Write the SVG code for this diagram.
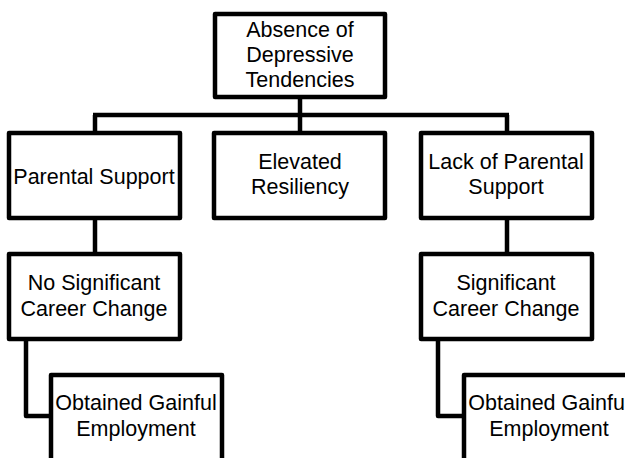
<svg xmlns="http://www.w3.org/2000/svg" width="625" height="458" viewBox="0 0 625 458">
  <style>
    .box { fill: #ffffff; stroke: #000000; stroke-width: 4.5; stroke-linejoin: round; }
    .link { fill: none; stroke: #000000; stroke-width: 4.5; stroke-linejoin: round; }
    .label { font-family: "Liberation Sans", Arial, sans-serif; font-size: 21.5px; fill: #000000; text-anchor: middle; }
  </style>
  <rect width="625" height="458" fill="#ffffff"/>

  <g id="connectors">
    <path class="link" d="M300 97 V115"/>
    <path class="link" d="M93 115 H509"/>
    <path class="link" d="M95 115 V133"/>
    <path class="link" d="M300 115 V133"/>
    <path class="link" d="M507 115 V133"/>
    <path class="link" d="M95 218 V254"/>
    <path class="link" d="M507 218 V254"/>
    <path class="link" d="M26 339 V416 H51"/>
    <path class="link" d="M438 339 V416 H464"/>
  </g>

  <g id="absence">
    <rect class="box" x="215" y="14" width="170" height="83"/>
    <text class="label" x="300" y="37">Absence of</text>
    <text class="label" x="300" y="62">Depressive</text>
    <text class="label" x="300" y="87">Tendencies</text>
  </g>

  <g id="parental-support">
    <rect class="box" x="9" y="133" width="171" height="85"/>
    <text class="label" x="94" y="184">Parental Support</text>
  </g>

  <g id="elevated-resiliency">
    <rect class="box" x="214" y="133" width="171" height="85"/>
    <text class="label" x="300" y="169">Elevated</text>
    <text class="label" x="300" y="194">Resiliency</text>
  </g>

  <g id="lack-parental-support">
    <rect class="box" x="421" y="133" width="171" height="85"/>
    <text class="label" x="506" y="169">Lack of Parental</text>
    <text class="label" x="506" y="194">Support</text>
  </g>

  <g id="no-career-change">
    <rect class="box" x="9" y="254" width="171" height="85"/>
    <text class="label" x="94" y="290">No Significant</text>
    <text class="label" x="94" y="316">Career Change</text>
  </g>

  <g id="career-change">
    <rect class="box" x="421" y="254" width="171" height="85"/>
    <text class="label" x="506" y="290">Significant</text>
    <text class="label" x="506" y="316">Career Change</text>
  </g>

  <g id="employment-left">
    <rect class="box" x="51" y="375" width="171" height="100"/>
    <text class="label" x="136" y="410">Obtained Gainful</text>
    <text class="label" x="136" y="436">Employment</text>
  </g>

  <g id="employment-right">
    <rect class="box" x="464" y="375" width="171" height="100"/>
    <text class="label" x="549" y="410">Obtained Gainful</text>
    <text class="label" x="549" y="436">Employment</text>
  </g>
</svg>
